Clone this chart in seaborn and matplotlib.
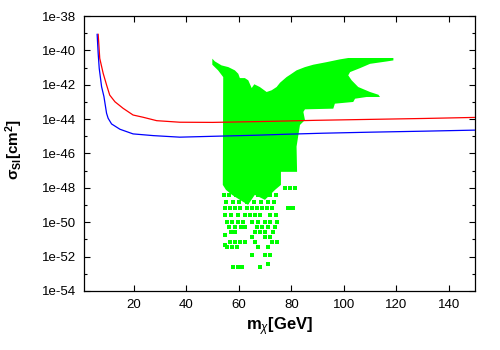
import numpy as np
import matplotlib
matplotlib.use("Agg")
import matplotlib.pyplot as plt
from matplotlib.ticker import NullFormatter, NullLocator
import seaborn as sns

# limits: log10(sigma_SI / cm^2) vs m_chi [GeV]
red_mass = [6.4, 7.0, 8.3, 9.6, 10.8, 12.8, 15.9, 19.7, 23.5, 28.7, 37.5, 50, 72, 89, 108, 131, 150]
red_logsig = [-39.05, -40.46, -41.33, -42.01, -42.6, -42.99, -43.37, -43.76, -43.89, -44.09,
              -44.18, -44.19, -44.13, -44.07, -44.02, -43.96, -43.9]
blue_mass = [6.0, 6.4, 6.8, 7.7, 8.6, 9.6, 10.2, 11.5, 14.7, 19.7, 27.4, 37.5, 50, 66, 78, 92, 110, 131, 150]
blue_logsig = [-39.05, -40.17, -41.04, -42.11, -42.69, -43.66, -43.95, -44.28, -44.59, -44.86, -44.96,
               -45.05, -45.0, -44.94, -44.88, -44.82, -44.76, -44.70, -44.64]

# outline of the dense scan region
region_mass = [49.9, 50.9, 53.4, 56.0, 58.5, 59.8, 60.4, 62.3, 63.6, 64.9, 65.9, 68.0, 69.7, 70.6,
               72.5, 74.4, 75.7, 78.2, 79.5, 82.0, 85.2, 88.4, 93.5, 98.5, 101.7, 118.9, 118.9,
               116.4, 110.0, 106.2, 102.4, 101.7, 103.0, 105.5, 110.0, 113.2, 113.8, 108.7, 104.3,
               103.6, 96.6, 96.0, 85.2, 84.6, 85.2, 83.3, 82.7, 82.0, 82.2, 76.05, 76.05, 73.8,
               69.95, 66.1, 63.5, 60.4, 57.4, 55.1, 53.9, 54.05, 52.1, 49.9]
region_logsig = [-40.48, -40.64, -40.87, -40.97, -41.16, -41.36, -41.61, -41.61, -41.74, -42.19,
                 -41.97, -42.13, -42.32, -42.42, -42.32, -42.13, -41.88, -41.55, -41.42, -41.16,
                 -40.97, -40.83, -40.68, -40.52, -40.44, -40.44, -40.58, -40.64, -40.78, -41.03,
                 -41.26, -41.45, -41.74, -42.13, -42.42, -42.58, -42.71, -42.71, -42.81, -43.0,
                 -43.10, -43.39, -43.43, -43.58, -44.05, -44.34, -44.92, -45.60, -47.07, -47.07,
                 -47.83, -48.12, -48.70, -48.41, -48.99, -48.70, -48.41, -48.12, -47.83, -41.55,
                 -41.16, -40.83]

# scattered scan points below the dense region
spot_mass = [77.6, 79.5, 81.4,
             54.3, 56.2, 58.9, 61.9, 64.2, 67.3, 69.2, 71.9, 74.1,
             55.1, 57.7, 60.0, 63.1, 65.8, 68.4, 71.1, 73.4,
             54.7, 56.6, 58.5, 60.4, 63.0, 64.9, 66.8, 68.7, 70.6, 72.5, 78.6, 79.75, 80.7,
             54.7, 57.0, 59.7, 62.3, 64.2, 66.1, 68.0, 71.9, 74.1,
             55.5, 57.4, 59.7, 61.6, 65.0, 67.3, 69.95, 71.9, 74.5,
             56.2, 58.5, 60.8, 62.3, 66.9, 68.8, 71.1, 73.8,
             57.0, 58.5, 66.1, 68.0, 69.95, 73.0,
             54.7,
             64.9, 69.95, 71.9,
             56.6, 58.5, 60.4, 62.3, 66.1, 72.5, 74.4,
             54.7,
             55.5, 57.4, 59.3, 67.4, 71.2,
             64.9, 69.95, 71.9,
             71.2,
             57.9, 59.7, 61.1, 68.0]
spot_logsig = [-48.01] * 3 + [-48.41] * 9 + [-48.82] * 8 + [-49.19] * 13 + [-49.58] * 9 \
    + [-49.97] * 9 + [-50.26] * 8 + [-50.55] * 6 + [-50.74] + [-50.84] * 3 + [-51.13] * 7 \
    + [-51.32] + [-51.42] * 5 + [-51.90] * 3 + [-52.43] + [-52.62] * 4

x_ticks = [20, 40, 60, 80, 100, 120, 140]
x_tick_labels = ["20", "40", "60", "80", "100", "120", "140"]
y_exps = [-38, -40, -42, -44, -46, -48, -50, -52, -54]
y_tick_labels = ["1e-38", "1e-40", "1e-42", "1e-44", "1e-46", "1e-48", "1e-50", "1e-52", "1e-54"]
y_minor_exps = [-39, -41, -43, -45, -47, -49, -51, -53]

sns.set_style("ticks", {"xtick.direction": "in", "ytick.direction": "in"})
plt.rcParams["font.family"] = ["Liberation Sans", "DejaVu Sans"]
plt.rcParams["mathtext.fontset"] = "custom"
plt.rcParams["mathtext.rm"] = "Liberation Sans"
plt.rcParams["mathtext.it"] = "Liberation Sans:italic"
plt.rcParams["mathtext.bf"] = "Liberation Sans:bold"
for key in ["text.color", "axes.labelcolor", "xtick.color", "ytick.color", "xtick.labelcolor", "ytick.labelcolor"]:
    plt.rcParams[key] = "black"

fig, ax = plt.subplots(figsize=(5, 3.5), dpi=100)
fig.subplots_adjust(left=0.168, right=0.95, bottom=0.169, top=0.954)
ax.set_yscale("log")

green = "#00ff00"
ax.fill(region_mass, 10.0 ** np.array(region_logsig), color=green, lw=0, zorder=1)
sns.scatterplot(x=spot_mass, y=10.0 ** np.array(spot_logsig), marker="s", s=9, color=green,
                linewidth=0, ax=ax, zorder=1)
sns.lineplot(x=red_mass, y=10.0 ** np.array(red_logsig), color="#ff0000", lw=0.9,
             estimator=None, sort=False, ax=ax, zorder=3)
sns.lineplot(x=blue_mass, y=10.0 ** np.array(blue_logsig), color="#0000ff", lw=0.9,
             estimator=None, sort=False, ax=ax, zorder=3)

ax.set_xlim(1, 150)
ax.set_ylim(1e-54, 1e-38)
ax.set_xticks(x_ticks, labels=x_tick_labels)
ax.set_yticks([10.0 ** e for e in y_exps], labels=y_tick_labels)
ax.set_yticks([10.0 ** e for e in y_minor_exps], minor=True)
ax.yaxis.set_minor_formatter(NullFormatter())
ax.xaxis.set_minor_locator(NullLocator())
ax.tick_params(which="both", direction="in", top=True, right=True, color="black",
               labelcolor="black", width=0.8)
ax.tick_params(which="major", length=4.5, labelsize=9.5, pad=6)
ax.tick_params(which="minor", length=2.5)
for sp in ax.spines.values():
    sp.set_color("black")
    sp.set_linewidth(0.9)

ax.set_xlabel(r"$\mathbf{m}_{\chi}\mathbf{[GeV]}$", fontsize=12, color="black")
ax.xaxis.set_label_coords(0.5, -0.09)
ax.set_ylabel(r"$\mathbf{\sigma}_{\mathbf{SI}}\mathbf{[cm^{2}]}$", fontsize=11, color="black")
ax.yaxis.set_label_coords(-0.15, 0.515)

fig.savefig("out.png", dpi=100, facecolor="white")
